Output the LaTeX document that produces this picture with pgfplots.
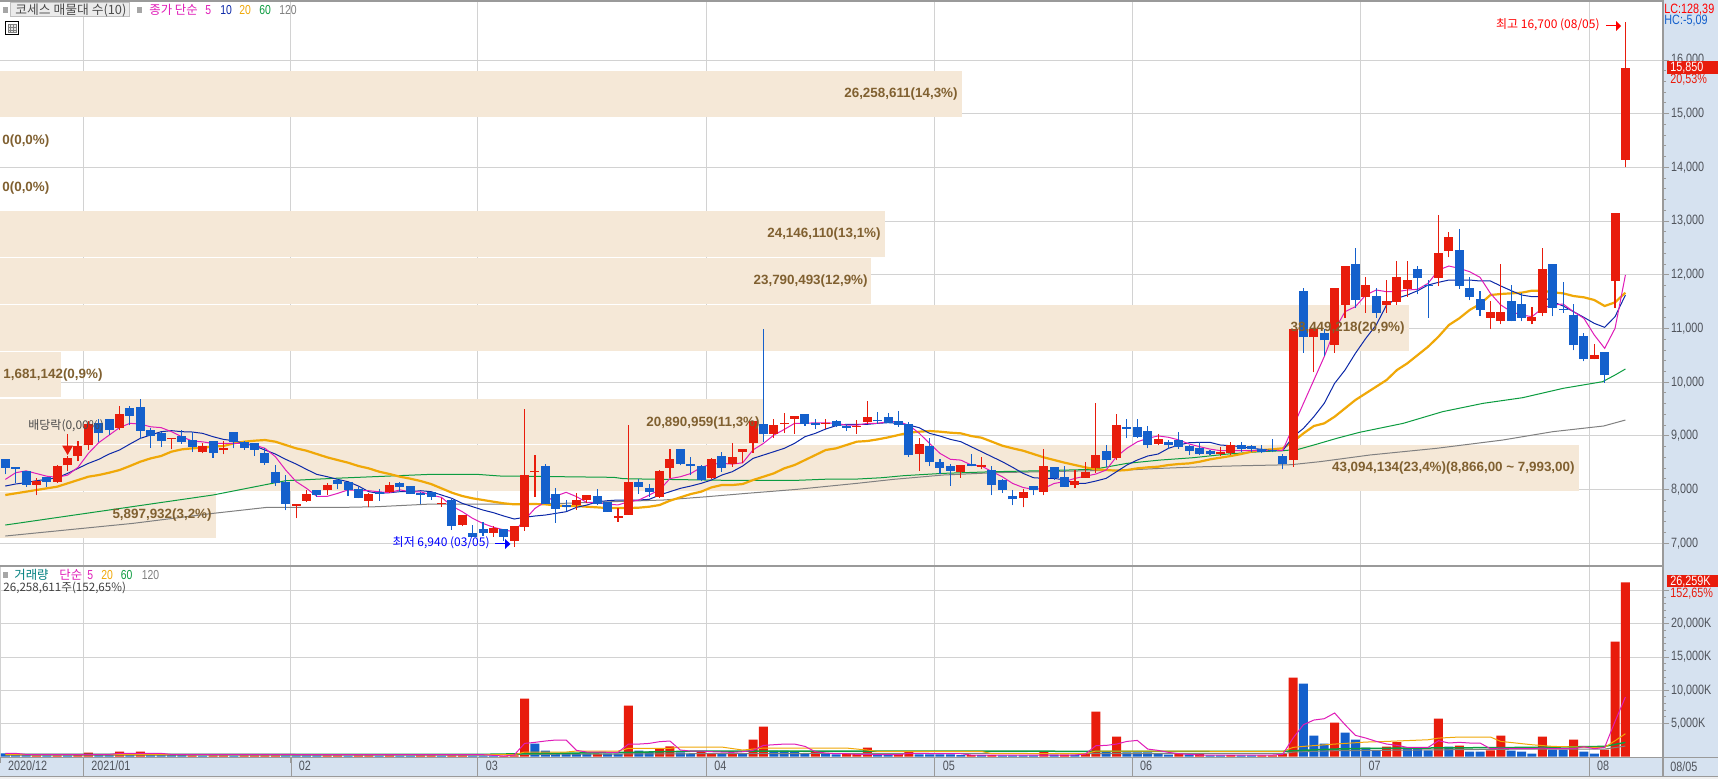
\documentclass[border=0pt]{standalone}
\usepackage{pgfplots}
\usepackage{pgfplotstable}
\usepackage{fontspec}
\pgfplotsset{compat=1.18}
\setmainfont{Liberation Sans}
\newfontfamily\cjk{Noto Sans CJK KR}
\newfontfamily\gul[FakeStretch=0.8]{Liberation Sans}
\newcommand{\bld}{\normalfont\bfseries}
\definecolor{cred}{HTML}{E81C0C}
\definecolor{cblue}{HTML}{1460CC}
\definecolor{band}{HTML}{F5E8D7}
\definecolor{gridc}{HTML}{D2D2D2}
\definecolor{strip}{HTML}{D6E2F0}
\definecolor{axgray}{HTML}{9A9A9A}
\definecolor{ma5}{HTML}{E01CB8}
\definecolor{ma10}{HTML}{0C28A8}
\definecolor{ma20}{HTML}{F0A808}
\definecolor{ma60}{HTML}{0C9C40}
\definecolor{ma120}{HTML}{808080}
\definecolor{txt}{HTML}{50545C}
\definecolor{btxt}{HTML}{806030}

% i bodyLow bodyHigh wickLow wickHigh
\pgfplotstableread{
i bl bh wl wh
3 8090 8160 7900 8210
5 8150 8440 8130 8460
6 8450 8590 8350 8630
7 8630 8810 8530 8910
8 8830 9230 8740 9270
11 9150 9410 9110 9560
16 8950 8970 8750 8970
19 8700 8820 8680 8870
21 8740 8770 8660 8900
28 7700 7730 7470 7730
29 7790 7910 7770 8000
31 7990 8090 7900 8120
35 7790 7910 7670 7930
37 7950 8080 7930 8140
42 7730 7760 7680 7840
44 7350 7520 7320 7530
47 7200 7290 7120 7330
49 7050 7320 6940 7320
50 7310 8270 7230 9500
51 8320 8350 7870 8640
55 7710 7800 7630 7930
56 7810 7900 7760 7900
59 7480 7510 7400 7650
60 7530 8140 7530 9200
63 7870 8350 7840 8370
64 8410 8570 8210 8760
68 8220 8570 8200 8580
70 8480 8610 8430 8860
71 8710 8760 8490 8760
72 8860 9280 8690 9280
74 9040 9200 8970 9320
75 9230 9240 9050 9430
76 9320 9370 9040 9370
79 9230 9250 9130 9320
82 9170 9190 9040 9300
83 9260 9350 9220 9650
88 8660 8850 8350 8960
92 8330 8460 8220 8460
94 8430 8460 8380 8610
98 7840 7960 7670 8010
100 7960 8440 7900 8760
103 8090 8160 8030 8370
104 8220 8330 8220 8510
105 8400 8640 8310 9610
107 8590 9200 8550 9410
111 8850 8940 8830 9040
117 8660 8710 8630 8790
118 8680 8830 8640 8890
124 8550 11000 8430 11000
126 10840 11000 10190 11000
128 10690 11750 10550 11750
129 11440 12170 11200 12170
131 11590 11810 11290 11960
133 11440 11510 11290 11900
134 11490 11960 11440 12260
135 11730 11900 11590 12260
138 11940 12410 11790 13110
139 12440 12700 12330 12800
143 11200 11310 10990 11510
144 11140 11310 11080 12200
147 11140 11210 11080 11400
148 11290 12110 11230 12500
153 10430 10510 10430 10710
155 11880 13150 11380 13150
156 14140 15850 14000 16700
}\redtab
\pgfplotstableread{
i bl bh wl wh
0 8410 8570 8290 8570
1 8390 8420 8130 8420
2 8090 8350 8050 8350
4 8150 8230 8050 8230
9 9060 9250 8890 9310
10 9110 9320 9020 9320
12 9380 9520 9200 9560
13 9100 9540 8940 9690
14 9000 9110 8780 9140
15 8900 9050 8800 9080
17 8890 9000 8850 9110
18 8800 8920 8710 9080
20 8680 8900 8590 8900
22 8880 9070 8770 9070
23 8780 8890 8740 8900
24 8740 8860 8630 8860
25 8500 8690 8460 8770
26 8130 8330 8070 8460
27 7730 8140 7620 8270
30 7900 7990 7870 8000
32 8110 8180 8010 8200
33 8000 8150 7880 8150
34 7850 8010 7840 8040
36 7910 7950 7790 8020
38 8050 8120 7960 8140
39 7920 8060 7920 8060
40 7900 7930 7730 7950
41 7860 7960 7810 7960
43 7330 7810 7250 7820
45 7120 7190 7120 7340
46 7200 7270 7140 7400
48 7120 7270 7050 7270
52 7740 8440 7740 8480
53 7640 7920 7380 8030
54 7680 7710 7600 7810
57 7730 7880 7710 8010
58 7590 7770 7590 7770
61 8040 8150 7920 8190
62 7960 8030 7870 8100
65 8480 8760 8450 8760
66 8440 8470 8270 8610
67 8180 8440 8160 8460
69 8400 8630 8330 8700
73 9040 9220 8880 11000
77 9220 9410 9190 9410
78 9210 9240 9130 9320
80 9190 9280 9170 9300
81 9150 9190 9100 9220
84 9270 9300 9230 9450
85 9250 9350 9250 9430
86 9200 9280 9170 9460
87 8640 9220 8610 9260
89 8510 8810 8440 8960
90 8400 8510 8300 8570
91 8350 8440 8070 8480
93 8440 8480 8440 8660
95 8090 8370 7900 8440
96 7990 8180 7940 8200
97 7820 7880 7710 7990
99 8000 8070 7900 8070
101 8220 8420 8180 8420
102 8050 8230 8050 8440
106 8550 8720 8420 8830
108 9130 9170 8960 9320
109 8980 9170 8960 9320
110 8830 9090 8770 9180
112 8830 8890 8760 8920
113 8790 8920 8760 9070
114 8720 8810 8640 8830
115 8660 8770 8640 8890
116 8660 8720 8640 8740
119 8760 8830 8700 8890
120 8760 8810 8700 8830
121 8700 8760 8680 8830
122 8720 8740 8700 8940
123 8480 8630 8380 8660
125 10840 11700 10550 11750
127 10780 10910 10490 11000
130 11530 12200 11380 12500
132 11290 11610 11200 11750
136 11940 12110 11640 12160
137 11790 11810 11200 11900
140 11790 12460 11740 12850
141 11590 11750 11530 11960
142 11340 11550 11230 11700
145 11140 11510 11140 11810
146 11200 11460 11140 11660
149 11380 12200 11230 12200
150 11350 11360 11290 11870
151 10690 11250 10600 11460
152 10430 10860 10390 10920
154 10130 10560 9990 10560
}\bluetab

\pgfplotsset{
  panel/.style={
    scale only axis, width=831.5pt,
    xmin=-0.51, xmax=159.62,
    axis line style={draw=none},
    xtick={7.5,27.5,45.5,67.5,89.5,108.5,130.5,152.5},
    ytick pos=right, yticklabel pos=right,
    tick align=outside,
    scaled y ticks=false,
    grid=major,
    major grid style={color=gridc,line width=.5pt},
    y tick style={color=axgray,line width=.5pt},
    major tick length=3pt, minor tick length=1.5pt,
    minor y tick num=4,
    tick label style={font=\gul\fontsize{6.75pt}{7pt}\selectfont, text=txt,
       /pgf/number format/1000 sep={,},/pgf/number format/assume math mode=true},
    y tick label style={xshift=-2.5pt},
    clip=true,
  },
  wick/.style={only marks,mark=*,mark size=0pt,mark options={draw=none,fill=none},forget plot,
    error bars/.cd,y dir=plus,y explicit,error mark=none,
    error bar style={line width=.55pt,color=#1}},
  body/.style={only marks,mark=*,mark size=0pt,mark options={draw=none,fill=none},forget plot,
    error bars/.cd,y dir=plus,y explicit,error mark=none,
    error bar style={line width=4.5pt,color=#1}},
  bandfill/.style={fill=band,draw=none,forget plot},
}

\begin{document}
\begin{tikzpicture}[font=\fontsize{6.5pt}{7pt}\selectfont]
\begin{scope}[x=0.5pt,y=-0.5pt,yshift=389.5pt]
  \fill[white] (0,0) rectangle (1718,779);
  \fill[strip] (1663,0) rectangle (1718,757);
  \fill[strip] (0,757) rectangle (1718,776.5);
  \fill[black!6] (0,777) rectangle (1718,779);
\end{scope}

% ---------- price panel ----------
\begin{axis}[panel, at={(0pt,106.25pt)}, anchor=south west, height=282.75pt,
  ymin=6569, ymax=17099,
  ytick={7000,8000,9000,10000,11000,12000,13000,14000,15000,16000},
  xticklabels={}, x tick style={draw=none}]
 % volume-by-price bands
 \addplot[bandfill] coordinates {(-0.51,14944)(92.1,14944)(92.1,15795)(-0.51,15795)} --cycle;
 \addplot[bandfill] coordinates {(-0.51,12341)(84.7,12341)(84.7,13188)(-0.51,13188)} --cycle;
 \addplot[bandfill] coordinates {(-0.51,11462)(83.4,11462)(83.4,12322)(-0.51,12322)} --cycle;
 \addplot[bandfill] coordinates {(-0.51,10582)(135.2,10582)(135.2,11447)(-0.51,11447)} --cycle;
 \addplot[bandfill] coordinates {(-0.51,9716)(5.4,9716)(5.4,10569)(-0.51,10569)} --cycle;
 \addplot[bandfill] coordinates {(-0.51,8850)(73,8850)(73,9688)(-0.51,9688)} --cycle;
 \addplot[bandfill] coordinates {(-0.51,7975)(151.5,7975)(151.5,8831)(-0.51,8831)} --cycle;
 \addplot[bandfill] coordinates {(-0.51,7105)(20.3,7105)(20.3,7962)(-0.51,7962)} --cycle;

 % MA 120
 \addplot[ma120,line width=.5pt,forget plot] coordinates {(0,7136)(12.3,7372)(20,7558)(25.2,7670)(32.6,7670)(35.8,7682)(41,7732)(45,7732)(48.6,7732)(53.7,7745)(63.4,7807)(67.6,7869)(71.4,7931)(76.2,8005)(82,8117)(85.5,8191)(90.3,8272)(95.2,8315)(104.8,8353)(108,8365)(111.2,8396)(115.4,8427)(119.3,8446)(123.8,8464)(126.6,8521)(131.4,8645)(137.8,8769)(144.2,8924)(149,9079)(153.9,9185)(156,9296)};
 % MA 60
 \addplot[ma60,line width=.5pt,forget plot] coordinates {(0,7341)(20,7900)(27,8166)(31.6,8210)(41,8285)(45.4,8285)(47.6,8254)(53.4,8241)(58.6,8229)(59.5,8204)(63.4,8191)(69.5,8173)(76.2,8173)(79.4,8197)(82,8197)(84.4,8222)(86.5,8260)(90.3,8303)(95.2,8334)(100,8353)(104.8,8378)(108,8489)(111.2,8551)(114.4,8595)(117.7,8663)(120.9,8707)(123,8725)(124.5,8750)(126,8831)(128.2,8955)(130.4,9067)(134.6,9234)(138.4,9452)(142.3,9607)(146.1,9712)(150,9886)(153.8,10010)(155,10134)(156,10246)};
 % MA 20
 \addplot[ma20,line width=1.1pt,forget plot] coordinates {(0,7900)(1,7931)(2,7962)(3,7993)(4,8024)(5,8055)(6,8117)(7,8179)(8,8241)(9,8272)(10,8315)(11,8365)(12,8440)(13,8520)(14,8582)(15,8626)(16,8707)(17,8750)(18,8769)(19,8781)(20,8800)(21,8812)(22,8862)(23,8893)(24,8911)(25,8924)(26,8893)(27,8831)(28,8769)(29,8725)(30,8663)(31,8601)(32,8551)(33,8502)(34,8440)(35,8396)(36,8334)(37,8291)(38,8241)(39,8204)(40,8160)(41,8104)(42,8024)(43,7943)(44,7881)(45,7838)(46,7807)(47,7775)(48,7745)(49,7726)(50,7732)(51,7732)(52,7726)(53,7707)(54,7695)(55,7695)(56,7682)(57,7670)(58,7657)(59,7657)(60,7657)(61,7664)(62,7682)(63,7713)(64,7794)(65,7856)(66,7918)(67,7962)(68,8042)(69,8086)(70,8086)(71,8104)(72,8179)(73,8241)(74,8303)(75,8396)(76,8458)(77,8551)(78,8644)(79,8738)(80,8769)(81,8831)(82,8893)(83,8905)(84,8936)(85,8973)(86,9017)(87,9060)(88,9079)(89,9091)(90,9079)(91,9060)(92,9048)(93,8998)(94,8967)(95,8893)(96,8818)(97,8769)(98,8725)(99,8663)(100,8601)(101,8551)(102,8502)(103,8458)(104,8415)(105,8378)(106,8365)(107,8353)(108,8365)(109,8396)(110,8415)(111,8427)(112,8458)(113,8477)(114,8489)(115,8520)(116,8564)(117,8595)(118,8626)(119,8663)(120,8707)(121,8738)(122,8750)(123,8770)(124,8893)(125,9048)(126,9185)(127,9234)(128,9358)(129,9514)(130,9669)(131,9793)(132,9917)(133,10041)(134,10227)(135,10352)(136,10507)(137,10662)(138,10848)(139,11065)(140,11190)(141,11345)(142,11456)(143,11624)(144,11643)(145,11655)(146,11667)(147,11705)(148,11705)(149,11674)(150,11655)(151,11605)(152,11581)(153,11531)(154,11419)(155,11487)(156,11667)};
 % MA 10
 \addplot[ma10,line width=.5pt,forget plot] coordinates {(0,8067)(1,8105)(2,8130)(3,8167)(4,8191)(5,8222)(6,8303)(7,8396)(8,8489)(9,8564)(10,8663)(11,8738)(12,8849)(13,8955)(14,9017)(15,9079)(16,9098)(17,9079)(18,9073)(19,9048)(20,8986)(21,8936)(22,8911)(23,8862)(24,8812)(25,8738)(26,8663)(27,8564)(28,8477)(29,8378)(30,8284)(31,8241)(32,8191)(33,8148)(34,8067)(35,7962)(36,7931)(37,7943)(38,7962)(39,7962)(40,7980)(41,7962)(42,7900)(43,7838)(44,7745)(45,7682)(46,7620)(47,7571)(48,7509)(49,7453)(50,7484)(51,7509)(52,7527)(53,7558)(54,7589)(55,7670)(56,7713)(57,7775)(58,7794)(59,7807)(60,7807)(61,7807)(62,7819)(63,7900)(64,7962)(65,8024)(66,8067)(67,8117)(68,8179)(69,8272)(70,8334)(71,8440)(72,8582)(73,8644)(74,8706)(75,8769)(76,8862)(77,8986)(78,9048)(79,9129)(80,9191)(81,9216)(82,9216)(83,9216)(84,9234)(85,9247)(86,9234)(87,9203)(88,9153)(89,9048)(90,8998)(91,8936)(92,8893)(93,8800)(94,8707)(95,8613)(96,8520)(97,8415)(98,8303)(99,8222)(100,8210)(101,8210)(102,8179)(103,8117)(104,8117)(105,8160)(106,8210)(107,8334)(108,8458)(109,8551)(110,8626)(111,8663)(112,8769)(113,8831)(114,8874)(115,8880)(116,8880)(117,8831)(118,8818)(119,8800)(120,8769)(121,8750)(122,8725)(123,8725)(124,8986)(125,9141)(126,9358)(127,9607)(128,9979)(129,10227)(130,10538)(131,10817)(132,11065)(133,11438)(134,11562)(135,11624)(136,11705)(137,11810)(138,11860)(139,11903)(140,11903)(141,11903)(142,11885)(143,11885)(144,11792)(145,11705)(146,11624)(147,11593)(148,11593)(149,11500)(150,11419)(151,11314)(152,11208)(153,11096)(154,11022)(155,11221)(156,11624)};
 % MA 5
 \addplot[ma5,line width=.5pt,forget plot] coordinates {(0,8190)(1,8315)(2,8350)(3,8300)(4,8250)(5,8230)(6,8270)(7,8415)(8,8675)(9,8875)(10,9015)(11,9155)(12,9235)(13,9220)(14,9170)(15,9155)(16,9080)(17,8985)(18,8905)(19,8890)(20,8860)(21,8860)(22,8860)(23,8860)(24,8830)(25,8770)(26,8615)(27,8365)(28,8150)(29,8025)(30,7875)(31,7875)(32,7930)(33,7995)(34,7985)(35,7980)(36,7960)(37,7945)(38,7995)(39,7960)(40,7960)(41,7900)(42,7856)(43,7695)(44,7590)(45,7465)(46,7370)(47,7300)(48,7250)(49,7215)(50,7435)(51,7650)(52,7775)(53,7880)(54,7950)(55,7870)(56,7760)(57,7755)(58,7730)(59,7715)(60,7775)(61,7805)(62,7900)(63,7995)(64,8205)(65,8240)(66,8300)(67,8415)(68,8475)(69,8490)(70,8475)(71,8500)(72,8740)(73,8860)(74,9015)(75,9120)(76,9235)(77,9235)(78,9245)(79,9245)(80,9235)(81,9200)(82,9200)(83,9235)(84,9235)(85,9265)(86,9265)(87,9200)(88,9050)(89,8860)(90,8675)(91,8565)(92,8550)(93,8460)(94,8440)(95,8335)(96,8240)(97,8115)(98,8040)(99,8005)(100,8025)(101,8115)(102,8150)(103,8210)(104,8250)(105,8290)(106,8365)(107,8615)(108,8770)(109,8890)(110,8955)(111,9000)(112,8975)(113,8925)(114,8850)(115,8800)(116,8755)(117,8725)(118,8725)(119,8725)(120,8725)(121,8725)(122,8730)(123,8730)(124,9170)(125,9607)(126,10041)(127,10476)(128,10972)(129,11314)(130,11407)(131,11624)(132,11717)(133,11686)(134,11686)(135,11717)(136,11730)(137,11841)(138,12090)(139,12164)(140,12120)(141,12058)(142,11953)(143,11655)(144,11438)(145,11314)(146,11252)(147,11221)(148,11376)(149,11438)(150,11456)(151,11314)(152,11190)(153,10880)(154,10631)(155,11003)(156,11996)};

 % candles
 \addplot[wick=cred] table[x=i,y=wl,y error plus expr=\thisrow{wh}-\thisrow{wl}] {\redtab};
 \addplot[wick=cblue] table[x=i,y=wl,y error plus expr=\thisrow{wh}-\thisrow{wl}] {\bluetab};
 \addplot[body=cred] table[x=i,y=bl,y error plus expr=\thisrow{bh}-\thisrow{bl}] {\redtab};
 \addplot[body=cblue] table[x=i,y=bl,y error plus expr=\thisrow{bh}-\thisrow{bl}] {\bluetab};

 % dividend marker
 \addplot[cred,line width=.5pt,forget plot] coordinates {(6,9035)(6,8780)};
 \addplot[only marks,mark=triangle*,mark size=2.7pt,mark options={rotate=180,fill=cred,draw=cred},forget plot] coordinates {(6,8760)};
\end{axis}

% ---------- volume panel ----------
\begin{axis}[panel, at={(0pt,11pt)}, anchor=south west, height=95.25pt,
  ymin=-45, ymax=28645,
  ytick={5000,10000,15000,20000,25000},
  yticklabels={{5,000K},{10,000K},{15,000K},{20,000K},{}},
  xtick={-0.51,7.5,27.5,45.5,67.5,89.5,108.5,130.5,152.5},
  xticklabels={2020/12,2021/01,02,03,04,05,06,07,08},
  x tick style={color=axgray,line width=.5pt},
  x tick label style={anchor=west,yshift=-1.5pt,xshift=.5pt},
  xtick pos=lower,
  ]
 \addplot[ybar,bar width=4.5pt,bar shift=0pt,fill=cred,draw=none,forget plot] coordinates {(3,200)(5,200)(7,250)(8,600)(11,750)(13,750)(18,200)(20,200)(21,200)(23,200)(24,200)(25,200)(26,200)(31,200)(32,200)(34,200)(35,200)(37,200)(40,200)(41,200)(43,200)(44,200)(48,100)(49,200)(50,8735)(57,450)(60,7680)(63,1200)(64,1550)(67,800)(68,550)(70,450)(72,2560)(73,4520)(78,750)(81,450)(82,450)(83,1355)(86,450)(87,800)(93,250)(95,250)(100,800)(102,300)(104,450)(105,6780)(107,3010)(113,400)(115,450)(118,250)(121,200)(122,200)(123,450)(124,11900)(128,5120)(133,1500)(134,2210)(138,5720)(140,1650)(143,950)(144,3160)(148,3010)(151,2560)(154,1050)(155,17320)(156,26259)};
 \addplot[ybar,bar width=4.5pt,bar shift=0pt,fill=cblue,draw=none,forget plot] coordinates {(0,500)(1,250)(2,300)(4,200)(6,200)(9,250)(10,250)(12,550)(14,300)(15,300)(16,300)(17,300)(19,150)(22,150)(27,200)(28,200)(29,200)(30,200)(33,150)(36,150)(38,150)(39,150)(42,150)(45,150)(46,150)(47,150)(51,1958)(52,900)(53,450)(54,450)(55,450)(56,450)(58,450)(59,450)(61,900)(62,750)(65,650)(66,450)(69,450)(71,550)(74,900)(75,900)(76,800)(77,550)(79,550)(80,350)(84,450)(85,450)(88,350)(89,350)(90,350)(91,350)(92,250)(94,250)(96,200)(97,200)(98,200)(99,200)(101,300)(103,300)(106,750)(108,650)(109,650)(110,650)(111,450)(112,300)(114,350)(116,200)(117,200)(119,200)(120,200)(125,10990)(126,3160)(127,1960)(129,3610)(130,2560)(131,1355)(132,950)(135,1355)(136,1355)(137,950)(139,1500)(141,750)(142,750)(145,900)(146,750)(147,450)(149,1050)(150,1050)(152,750)(153,450)};
 % volume MA 120
 \addplot[ma120,line width=.5pt,forget plot] coordinates {(0,250)(46,250)(50,350)(67,450)(83,500)(123,450)(124,700)(128,900)(147,1150)(154,1150)(156,1600)};
 % volume MA 60
 \addplot[ma60,line width=.75pt,forget plot] coordinates {(0,350)(46,350)(50,450)(60,650)(67,850)(123,800)(124,900)(128,1150)(131,1250)(147,1400)(154,1550)(156,2150)};
 % volume MA 20
 \addplot[ma20,line width=.5pt,forget plot] coordinates {(0,300)(49,300)(50,700)(54,700)(55,850)(59,850)(60,1250)(64,1250)(65,1450)(69,1450)(71,1000)(73,1300)(81,1300)(83,1000)(84,800)(94,800)(95,450)(104,450)(105,850)(123,800)(124,1400)(125,1550)(128,1900)(131,2200)(133,2300)(137,2550)(138,2800)(140,2960)(143,2960)(144,2300)(147,1800)(149,1550)(153,1400)(154,1400)(155,2400)(156,3460)};
 % volume MA 5
 \addplot[ma5,line width=.5pt,forget plot] coordinates {(0,500)(1,500)(2,350)(10,350)(11,500)(15,500)(16,350)(46,300)(48,100)(49,250)(50,2000)(51,2160)(52,2360)(53,2510)(54,2510)(55,950)(56,700)(59,650)(60,1900)(61,1900)(62,2000)(63,2260)(64,2360)(65,1000)(66,850)(67,850)(68,750)(69,700)(70,650)(71,750)(72,950)(73,1700)(74,1800)(75,1900)(76,1900)(77,1550)(78,750)(79,550)(80,450)(81,450)(82,350)(83,350)(84,300)(86,300)(87,500)(92,450)(93,250)(103,250)(104,400)(105,1650)(106,1700)(107,1900)(108,2300)(109,2450)(110,1150)(111,950)(112,650)(113,450)(114,350)(115,250)(122,250)(123,350)(124,2810)(125,4820)(126,5520)(127,5720)(128,6580)(129,4820)(130,3210)(131,2810)(132,2310)(133,1910)(134,1710)(135,1400)(136,1400)(137,1400)(138,2410)(139,2060)(140,2160)(141,2060)(142,2060)(143,1200)(144,1300)(145,1200)(146,1200)(147,1200)(148,1300)(149,1200)(150,1200)(151,1200)(152,1500)(153,1200)(154,1400)(155,5320)(156,8990)};
\end{axis}

% ---------- frame lines and texts, in reference pixels ----------
\begin{scope}[x=0.5pt,y=-0.5pt,yshift=389.5pt]
  \draw[axgray,line width=1pt] (0,1) -- (1663,1);
  \draw[axgray,line width=1pt] (0,566.5) -- (1663,566.5);
  \draw[axgray,line width=.75pt] (0,757.5) -- (1718,757.5);
  \draw[axgray,line width=.75pt] (0,776.7) -- (1718,776.7);
  \draw[axgray,line width=1pt] (1663,0) -- (1663,777);
  \foreach \vx in {83.3,291,477.7,706.7,934.3,1132.3,1360.3,1589.3} \draw[axgray,line width=.5pt] (\vx,757.5) -- (\vx,776.7);

  % main legend
  \fill[gray!70] (3,7) rectangle (8,13);
  \fill[black!8] (10,3) rectangle (129,17);
  \draw[black!25,line width=.5pt] (10,3) rectangle (129,17);
  \node[anchor=west,inner sep=0,text=black!70,font=\cjk\fontsize{6.4pt}{7pt}\selectfont] at (15,10) {코세스 매물대 수(10)};
  \fill[gray!70] (137,7) rectangle (142,13);
  \node[anchor=west,inner sep=0,text=ma5,font=\cjk\fontsize{6.2pt}{7pt}\selectfont] at (149,10) {종가 단순};
  \node[anchor=west,inner sep=0,text=ma5,font=\gul\fontsize{6.5pt}{7pt}\selectfont] at (205,10) {5};
  \node[anchor=west,inner sep=0,text=ma10,font=\gul\fontsize{6.5pt}{7pt}\selectfont] at (220,10) {10};
  \node[anchor=west,inner sep=0,text=ma20,font=\gul\fontsize{6.5pt}{7pt}\selectfont] at (239,10) {20};
  \node[anchor=west,inner sep=0,text=ma60,font=\gul\fontsize{6.5pt}{7pt}\selectfont] at (259,10) {60};
  \node[anchor=west,inner sep=0,text=ma120,font=\gul\fontsize{6.5pt}{7pt}\selectfont] at (279,10) {120};
  % table icon
  \draw[black,line width=.5pt] (5.5,21.5) rectangle (18.5,34.5);
  \fill[black!10] (8,24) rectangle (16,32);
  \draw[black!50,line width=.25pt] (8,24) rectangle (16,32) (8,27)--(16,27) (8,30)--(16,30) (10.6,24)--(10.6,32) (13.3,24)--(13.3,32);

  % band labels
  \tikzset{bl/.style={inner sep=0,text=btxt,font=\bld\fontsize{6.7pt}{7pt}\selectfont}}
  \node[bl,anchor=east] at (958,94) {26,258,611(14,3\%)};
  \node[bl,anchor=west] at (2,141) {0(0,0\%)};
  \node[bl,anchor=west] at (2,188) {0(0,0\%)};
  \node[bl,anchor=east] at (881,234) {24,146,110(13,1\%)};
  \node[bl,anchor=east] at (868,281) {23,790,493(12,9\%)};
  \node[bl,anchor=east] at (1405,328) {38,449,218(20,9\%)};
  \node[bl,anchor=west] at (3,375) {1,681,142(0,9\%)};
  \node[bl,anchor=east] at (760,423) {20,890,959(11,3\%)};
  \node[bl,anchor=east] at (1575,468) {43,094,134(23,4\%)(8,866,00 \textasciitilde{} 7,993,00)};
  \node[bl,anchor=east] at (212,515) {5,897,932(3,2\%)};

  % annotations
  \node[anchor=west,inner sep=0,text=black!70,font=\cjk\fontsize{6pt}{7pt}\selectfont] at (28,426) {배당락(0,00\%)};
  \node[anchor=east,inner sep=0,text=blue,font=\cjk\fontsize{6pt}{7pt}\selectfont] at (490,543) {최저 6,940 (03/05)};
  \draw[blue,line width=.5pt] (495,544) -- (505,544);
  \fill[blue] (505,539) -- (510.5,544) -- (505,549) -- cycle;
  \node[anchor=east,inner sep=0,text=red,font=\cjk\fontsize{6pt}{7pt}\selectfont] at (1600,25) {최고 16,700 (08/05)};
  \draw[red,line width=.5pt] (1606,26) -- (1616,26);
  \fill[red] (1616,21) -- (1621,26) -- (1616,31) -- cycle;

  % right strip
  \tikzset{rs/.style={inner sep=0,font=\gul\fontsize{6.75pt}{7pt}\selectfont}}
  \node[rs,anchor=west,text=red] at (1664,9.5) {LC:128,39};
  \node[rs,anchor=west,text=cblue] at (1664,21) {HC:-5,09};
  \fill[cred] (1667,61) rectangle (1718,74);
  \node[rs,anchor=west,text=white] at (1670,67.5) {15,850};
  \node[rs,anchor=west,text=cred] at (1670,79.5) {20,53\%};
  \fill[cred] (1667,575) rectangle (1718,587.5);
  \node[rs,anchor=west,text=white] at (1670,581.5) {26,259K};
  \node[rs,anchor=west,text=cred] at (1670,593.5) {152,65\%};
  \node[rs,anchor=west,text=txt] at (1670,766.5) {08/05};

  % volume legend
  \fill[gray!70] (3,572) rectangle (8,578);
  \node[anchor=west,inner sep=0,text=teal,font=\cjk\fontsize{6.2pt}{7pt}\selectfont] at (14,575) {거래량};
  \node[anchor=west,inner sep=0,text=ma5,font=\cjk\fontsize{6.2pt}{7pt}\selectfont] at (59,575) {단순};
  \node[anchor=west,inner sep=0,text=ma5,font=\gul\fontsize{6.5pt}{7pt}\selectfont] at (87,575) {5};
  \node[anchor=west,inner sep=0,text=ma20,font=\gul\fontsize{6.5pt}{7pt}\selectfont] at (101,575) {20};
  \node[anchor=west,inner sep=0,text=ma60,font=\gul\fontsize{6.5pt}{7pt}\selectfont] at (120.5,575) {60};
  \node[anchor=west,inner sep=0,text=ma120,font=\gul\fontsize{6.5pt}{7pt}\selectfont] at (141.5,575) {120};
  \node[anchor=west,inner sep=0,text=black!75,font=\cjk\fontsize{5.8pt}{7pt}\selectfont] at (3,588) {26,258,611주(152,65\%)};

  \pgfresetboundingbox
  \path[use as bounding box] (0,0) rectangle (1718,779);
\end{scope}
\end{tikzpicture}
\end{document}
